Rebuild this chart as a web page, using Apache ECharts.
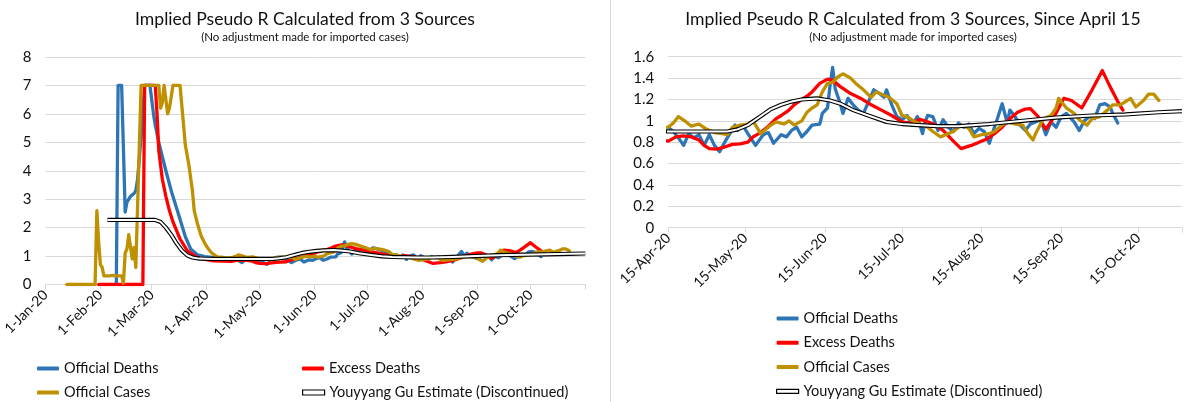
<!DOCTYPE html>
<html><head><meta charset="utf-8">
<script src="https://cdn.jsdelivr.net/npm/echarts@6/dist/echarts.min.js"></script>
<style>html,body{margin:0;padding:0;background:#fff}#c{width:1200px;height:402px}</style>
</head><body><div id="c"></div>
<script>
// Day index: 0 = 1-Jan-2020
const leftTickDays = [0,31,60,91,121,152,182,213,244,274,305];
const leftLabelDays = [0,31,60,91,121,152,182,213,244,274];
const rightTickDays = [105,135,166,196,227,258,288,305];
const rightLabelDays = [105,135,166,196,227,258,288];

const seriesNames = ['Official Deaths','Excess Deaths','Official Cases','Youyyang Gu Estimate (Discontinued)'];
const titleLeft = 'Implied Pseudo R Calculated from 3 Sources';
const titleRight = 'Implied Pseudo R Calculated from 3 Sources, Since April 15';
const subTitle = '(No adjustment made for imported cases)';

const officialDeathsDay = [40,41,43,44,45,46,47,48,49,50,51,52,54,56,59,61,62,64,66,68,71,75,79,82,86,90,93,97,100,103,105,107,109,111,113,115,117,119,121,123,125,127,129,131,132,134,136,139,142,144,146,149,151,153,155,157,159,161,164,165,167,168,169,170,172,173,175,177,179,181,183,185,187,189,190,192,194,196,198,200,202,204,205,206,208,210,212,214,216,218,220,222,224,226,228,230,232,233,235,237,238,240,242,244,246,248,250,252,254,256,258,260,263,265,267,269,271,273,275,277,278,280];
const officialDeathsR = [0,7,7,4.8,2.55,2.9,2.85,3.1,3.05,3.2,3.3,3.7,5.2,7,7,6.0,5.6,5.0,4.5,4.0,3.3,2.5,1.68,1.25,1.04,0.98,0.96,0.92,0.95,0.9,0.94,0.9,0.84,0.77,0.88,0.84,0.87,0.77,0.87,0.77,0.71,0.8,0.88,0.96,0.91,0.96,0.88,0.77,0.87,0.89,0.79,0.87,0.85,0.91,0.94,0.85,0.9,0.96,0.97,1.07,1.12,1.33,1.5,1.3,1.16,1.07,1.21,1.15,1.1,1.07,1.18,1.29,1.26,1.22,1.29,1.15,1.04,1.01,1.05,0.96,1.04,0.88,0.99,1.05,1.04,0.91,1.01,0.94,0.9,0.98,0.94,0.97,0.88,0.93,0.9,0.79,0.94,1.01,1.16,0.98,1.1,1.04,0.96,0.91,0.97,0.99,1.01,0.87,0.99,0.94,1.04,1.07,0.99,0.91,1.0,1.04,1.02,1.15,1.16,1.13,1.07,0.98];

const excessDeathsDay = [30,55,56,62,63,64,66,68,70,72,74,76,78,80,82,85,90,95,100,105,108,111,114,117,119,121,124,127,130,133,136,138,141,144,147,149,152,154,157,159,161,164,167,169,172,176,180,184,188,192,196,200,203,206,209,212,216,219,223,226,229,232,235,238,241,244,246,249,252,255,259,262,266,270,274,277,280,282];
const excessDeathsR = [0,0,7,7,6.0,4.7,3.7,3.1,2.6,2.2,1.9,1.6,1.4,1.2,1.1,0.97,0.88,0.83,0.82,0.81,0.85,0.86,0.85,0.82,0.77,0.74,0.735,0.755,0.78,0.785,0.8,0.85,0.89,0.95,1.02,1.05,1.1,1.15,1.2,1.23,1.27,1.35,1.39,1.38,1.32,1.255,1.21,1.15,1.1,1.05,0.99,0.975,1.015,0.99,0.96,0.91,0.81,0.74,0.77,0.8,0.83,0.88,0.94,1.02,1.08,1.11,1.115,1.04,0.92,1.03,1.21,1.19,1.12,1.29,1.47,1.32,1.18,1.1];

const officialCasesDay = [12,28,29,30,31,32,33,36,38,40,43,44,45,46,47,48,49,50,51,52,54,64,65,66,67,68,69,70,71,72,76,77,79,81,83,84,86,88,90,92,94,97,100,103,105,107,109,112,114,117,120,123,126,128,130,133,136,138,141,145,147,150,152,154,157,159,161,163,165,167,169,171,173,176,178,181,184,186,189,191,194,196,198,201,204,206,208,211,213,216,219,222,224,227,230,232,235,237,240,243,245,247,248,251,254,256,257,260,263,265,268,270,273,276,278,281,283,285,287,290,292,294,296];
const officialCasesR = [0,0,2.6,1.5,0.7,0.6,0.3,0.3,0.32,0.3,0.3,0.05,1.1,1.25,1.75,1.75,0.9,1.3,0.6,0.6,7,7,6.2,6.4,7,6.5,6.0,6.2,6.25,7,7,6.3,4.9,4.2,3.3,2.6,2.1,1.7,1.45,1.25,1.1,0.97,0.95,0.93,0.94,0.98,1.04,0.99,0.95,0.97,0.92,0.89,0.88,0.87,0.94,0.96,0.97,1.0,0.88,0.96,0.99,0.97,1.0,0.96,1.0,1.08,1.12,1.15,1.27,1.35,1.36,1.41,1.44,1.4,1.35,1.29,1.22,1.27,1.24,1.22,1.16,1.05,1.04,0.99,0.96,0.94,0.9,0.85,0.87,0.9,0.96,0.93,0.85,0.87,0.88,0.9,0.96,0.99,0.97,0.96,0.88,0.82,0.88,1.02,1.05,1.12,1.21,1.12,1.07,1.01,0.96,1.02,1.04,1.1,1.15,1.15,1.18,1.21,1.13,1.19,1.25,1.25,1.19];

const guEstimateDay = [35,62,65,68,71,74,77,80,83,87,95,128,132,136,139,142,145,149,153,157,163,168,172,177,184,190,196,202,210,218,230,243,256,270,283,296,305];
const guEstimateR = [2.27,2.27,2.2,2.0,1.75,1.45,1.2,1.03,0.95,0.91,0.9,0.9,0.92,0.96,1.01,1.06,1.11,1.15,1.18,1.2,1.21,1.19,1.16,1.1,1.04,0.99,0.97,0.96,0.95,0.95,0.97,1.0,1.03,1.05,1.06,1.08,1.09];

const MON = ['Jan','Feb','Mar','Apr','May','Jun','Jul','Aug','Sep','Oct','Nov','Dec'];
function dayLabel(d){
  const t = new Date(Date.UTC(2020,0,1) + Math.round(d)*86400000);
  return t.getUTCDate() + '-' + MON[t.getUTCMonth()] + '-20';
}
function zip(a,b){ return a.map((x,i)=>[x,b[i]]); }

const FONT = 'Lato';
const TXT = '#111';
const GRID = '#d9d9d9';
const colors = ['#2E75B6','#FF0000','#BF9000','#000000'];
const dataSets = [
  zip(officialDeathsDay, officialDeathsR),
  zip(excessDeathsDay, excessDeathsR),
  zip(officialCasesDay, officialCasesR),
  zip(guEstimateDay, guEstimateR)
];

function xAxisCfg(gi, min, max, ticks, labels){
  return {
    type:'value', gridIndex:gi, min:min, max:max,
    axisLine:{show:true, lineStyle:{color:GRID, width:1}},
    axisTick:{show:true, customValues:ticks, length:5, lineStyle:{color:GRID}},
    axisLabel:{show:true, customValues:labels, rotate:45, margin:8, fontFamily:FONT, fontSize:14, color:TXT,
      formatter:(v)=>dayLabel(v)},
    splitLine:{show:false}
  };
}
function yAxisCfg(gi, min, max, interval){
  return {
    type:'value', gridIndex:gi, min:min, max:max, interval:interval,
    axisLine:{show:false}, axisTick:{show:false},
    axisLabel:{fontFamily:FONT, fontSize:15, color:TXT, margin:14},
    splitLine:{lineStyle:{color:GRID, width:1}}
  };
}

const series = [];
[0,1].forEach(gi=>{
  for(let s=0;s<4;s++){
    const base = {type:'line', xAxisIndex:gi, yAxisIndex:gi, data:dataSets[s], symbol:'none',
      clip:true, silent:true, animation:false};
    if(s<3){
      series.push(Object.assign({}, base, {name:seriesNames[s], z:2+s,
        lineStyle:{color:colors[s], width:3.3, join:'round', cap:'round'}, itemStyle:{color:colors[s]}}));
    } else {
      series.push(Object.assign({}, base, {name:seriesNames[3], z:6,
        lineStyle:{color:'#000', width:4.2, join:'round'}, itemStyle:{color:'#fff', borderColor:'#000'}}));
      series.push(Object.assign({}, base, {name:seriesNames[3]+' ', z:7,
        lineStyle:{color:'#fff', width:2, join:'round'}}));
    }
  }
});

function legendItem(name, idx){
  if(idx===3) return {name:name, icon:'rect', itemStyle:{color:'#fff', borderColor:'#000', borderWidth:1.2}};
  return {name:name, icon:'roundRect', itemStyle:{color:colors[idx]}};
}
const legendText = {fontFamily:FONT, fontSize:14.5, color:TXT};
function oneLegend(idx, left, top){
  return {data:[legendItem(seriesNames[idx], idx)], left:left, top:top, itemWidth:22, itemHeight:idx===3?5:4,
    textStyle:legendText, selectedMode:false, padding:0};
}

const titleStyle = {fontFamily:FONT, fontSize:17.6, fontWeight:'normal', color:TXT};
const subStyle = {fontFamily:FONT, fontSize:11.5, color:TXT};
const option = {
  backgroundColor:'#fff',
  animation:false,
  title:[
    {text:titleLeft, subtext:subTitle, left:300, top:5, textAlign:'center', itemGap:3,
      textStyle:titleStyle, subtextStyle:subStyle},
    {text:titleRight, subtext:subTitle, left:908, top:5, textAlign:'center', itemGap:3,
      textStyle:titleStyle, subtextStyle:subStyle}
  ],
  grid:[
    {left:43.3, right:614.7, top:57, bottom:117.5},
    {left:668.2, right:18, top:56.7, bottom:174.3}
  ],
  xAxis:[
    xAxisCfg(0, 0, 305, leftTickDays, leftLabelDays),
    xAxisCfg(1, 105, 305, rightTickDays, rightLabelDays)
  ],
  yAxis:[
    yAxisCfg(0, 0, 8, 1),
    yAxisCfg(1, 0, 1.6, 0.2)
  ],
  legend:[
    oneLegend(0, 37, 361),
    oneLegend(1, 302, 361),
    oneLegend(2, 37, 385),
    oneLegend(3, 302, 385),
    {data:[0,1,2,3].map(i=>legendItem(seriesNames[i], i)), orient:'vertical', left:776, top:311,
      itemGap:9.3, itemWidth:22, itemHeight:4, textStyle:legendText, selectedMode:false, padding:0}
  ],
  graphic:[
    {type:'line', shape:{x1:610.5, y1:0, x2:610.5, y2:402}, style:{stroke:'#d9d9d9', lineWidth:1}, silent:true}
  ],
  series:series
};

const chart = echarts.init(document.getElementById('c'), null, {renderer:'canvas'});
chart.setOption(option);
</script>
</body></html>
